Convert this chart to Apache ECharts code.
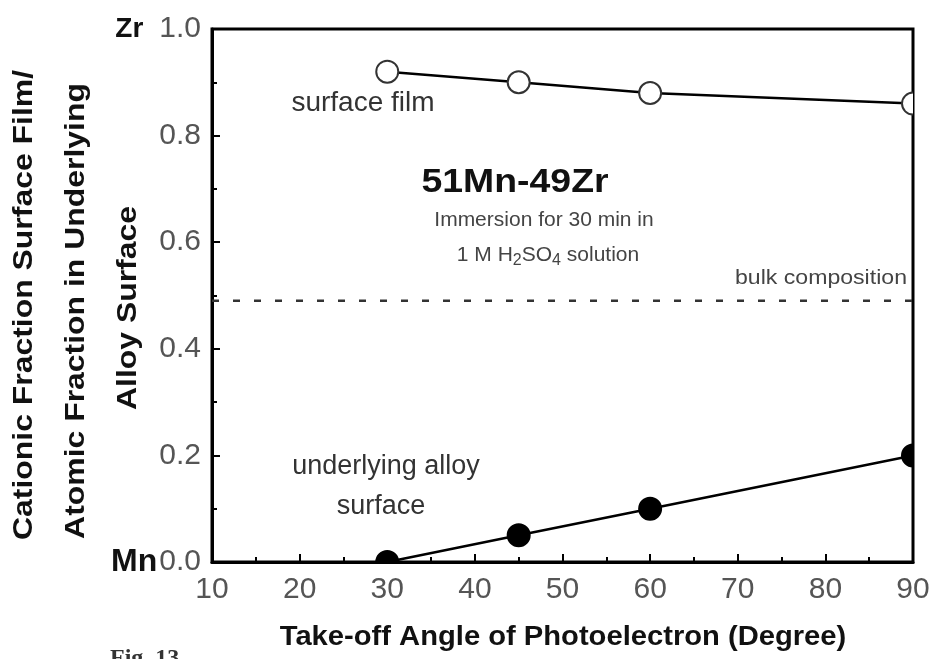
<!DOCTYPE html>
<html>
<head>
<meta charset="utf-8">
<script src="https://cdn.jsdelivr.net/npm/echarts@6/dist/echarts.min.js"></script>
<style>
  html, body { margin: 0; padding: 0; background: #fff; }
  #chart { width: 934px; height: 659px; }
</style>
</head>
<body>
<div id="chart"></div>
<script>
// Take-off angle of photoelectron (degree)
const angles = [30, 45, 60, 90];
// Cationic fraction of Zr in the surface film
const surfaceFilm = [0.92, 0.90, 0.88, 0.86];
// Atomic fraction of Zr in the underlying alloy surface
const underlyingAlloy = [0.0, 0.05, 0.10, 0.20];
// Zr fraction of the bulk alloy (51Mn-49Zr)
const bulkComposition = 0.49;
const angleRange = [10, 90];

const FONT = '"Liberation Sans", Arial, Helvetica, sans-serif';

const chart = echarts.init(document.getElementById('chart'), null, { renderer: 'canvas' });

const pairs = (xs, ys) => xs.map((x, i) => [x, ys[i]]);

// Circle markers drawn through a custom series so that they are clipped by the plot frame
function markerSeries(name, data, fill, stroke) {
  return {
    name: name,
    type: 'custom',
    clip: true,
    z: 5,
    data: data,
    renderItem: function (params, api) {
      const p = api.coord([api.value(0), api.value(1)]);
      return {
        type: 'circle',
        shape: { cx: p[0], cy: p[1], r: 11 },
        style: { fill: fill, stroke: stroke, lineWidth: 2 }
      };
    }
  };
}

const option = {
  backgroundColor: '#fff',
  animation: false,
  grid: {
    left: 212, right: 21, top: 29, bottom: 97,
    show: true, borderColor: '#000', borderWidth: 3, backgroundColor: 'transparent'
  },
  xAxis: {
    type: 'value',
    min: angleRange[0], max: angleRange[1], interval: 10,
    axisLine: { show: true, lineStyle: { color: '#000', width: 3 } },
    axisTick: { show: true, inside: true, length: 8, lineStyle: { color: '#000', width: 2 } },
    minorTick: { show: true, splitNumber: 2, length: 5, lineStyle: { color: '#000', width: 2 } },
    splitLine: { show: false },
    axisLabel: { fontFamily: FONT, fontSize: 30, color: '#555', margin: 13 }
  },
  yAxis: {
    type: 'value',
    min: 0, max: 1, interval: 0.2,
    axisLine: { show: true, lineStyle: { color: '#000', width: 3 } },
    axisTick: { show: true, inside: true, length: 8, lineStyle: { color: '#000', width: 2 } },
    minorTick: { show: true, splitNumber: 2, length: 5, lineStyle: { color: '#000', width: 2 } },
    splitLine: { show: false },
    axisLabel: {
      fontFamily: FONT, fontSize: 30, color: '#555', margin: 11,
      formatter: function (v) {
        const t = v.toFixed(1);
        if (Math.abs(v - 1) < 1e-9) return '{zr|Zr}' + t;
        if (Math.abs(v) < 1e-9) return '{mn|Mn}' + t;
        return t;
      },
      rich: {
        zr: { fontFamily: FONT, fontSize: 28, fontWeight: 'bold', color: '#111', padding: [0, 16, 0, 0] },
        mn: { fontFamily: FONT, fontSize: 32, fontWeight: 'bold', color: '#111', padding: [0, 2, 0, 0] }
      }
    }
  },
  series: [
    {
      name: 'bulk composition',
      type: 'line',
      data: [[angleRange[0], bulkComposition], [angleRange[1], bulkComposition]],
      symbol: 'none',
      lineStyle: { color: '#333', width: 2.5, type: [7, 14] },
      z: 2
    },
    {
      name: 'surface film',
      type: 'line',
      data: pairs(angles, surfaceFilm),
      symbol: 'none',
      lineStyle: { color: '#000', width: 2.5 },
      z: 3
    },
    {
      name: 'underlying alloy surface',
      type: 'line',
      data: pairs(angles, underlyingAlloy),
      symbol: 'none',
      lineStyle: { color: '#000', width: 2.5 },
      z: 3
    },
    markerSeries('surface film markers', pairs(angles, surfaceFilm), '#fff', '#333'),
    markerSeries('underlying markers', pairs(angles, underlyingAlloy), '#000', '#000')
  ],
  graphic: [
    // axis titles
    {
      type: 'text', x: 563, y: 638,
      style: { text: 'Take-off Angle of Photoelectron (Degree)', font: 'bold 27px ' + FONT,
               fill: '#111', align: 'center', verticalAlign: 'middle' },
      scaleX: 1.08
    },
    {
      type: 'text', x: 24, y: 305, rotation: Math.PI / 2,
      style: { text: 'Cationic Fraction Surface Film/', font: 'bold 28px ' + FONT,
               fill: '#111', align: 'center', verticalAlign: 'middle' },
      scaleX: 1.14
    },
    {
      type: 'text', x: 76, y: 311, rotation: Math.PI / 2,
      style: { text: 'Atomic Fraction in Underlying', font: 'bold 28px ' + FONT,
               fill: '#111', align: 'center', verticalAlign: 'middle' },
      scaleX: 1.14
    },
    {
      type: 'text', x: 128, y: 308, rotation: Math.PI / 2,
      style: { text: 'Alloy Surface', font: 'bold 28px ' + FONT,
               fill: '#111', align: 'center', verticalAlign: 'middle' },
      scaleX: 1.14
    },
    // annotations inside the plot
    {
      type: 'text', x: 363, y: 103,
      style: { text: 'surface film', font: '28px ' + FONT, fill: '#333',
               align: 'center', verticalAlign: 'middle' }
    },
    {
      type: 'text', x: 515, y: 183,
      style: { text: '51Mn-49Zr', font: 'bold 34px ' + FONT, fill: '#111',
               align: 'center', verticalAlign: 'middle' },
      scaleX: 1.1
    },
    {
      type: 'text', x: 544, y: 220,
      style: { text: 'Immersion for 30 min in', font: '21px ' + FONT, fill: '#444',
               align: 'center', verticalAlign: 'middle' }
    },
    {
      type: 'text', x: 548, y: 255,
      style: {
        text: '1 M H{s|2}SO{s|4} solution', font: '21px ' + FONT, fill: '#444',
        align: 'center', verticalAlign: 'middle',
        rich: { s: { fontSize: 16, fontFamily: FONT, fill: '#444', padding: [12, 0, 0, 0] } }
      }
    },
    {
      type: 'text', x: 907, y: 278,
      style: { text: 'bulk composition', font: '21px ' + FONT, fill: '#444',
               align: 'right', verticalAlign: 'middle' },
      scaleX: 1.1
    },
    {
      type: 'text', x: 386, y: 467,
      style: { text: 'underlying alloy', font: '27px ' + FONT, fill: '#333',
               align: 'center', verticalAlign: 'middle' }
    },
    {
      type: 'text', x: 381, y: 507,
      style: { text: 'surface', font: '27px ' + FONT, fill: '#333',
               align: 'center', verticalAlign: 'middle' }
    },
    // figure number
    {
      type: 'text', x: 110, y: 647,
      style: { text: 'Fig. 13', font: 'bold 24px "Liberation Serif", "Times New Roman", serif',
               fill: '#333', align: 'left', verticalAlign: 'top' }
    }
  ]
};

chart.setOption(option);
</script>
</body>
</html>
